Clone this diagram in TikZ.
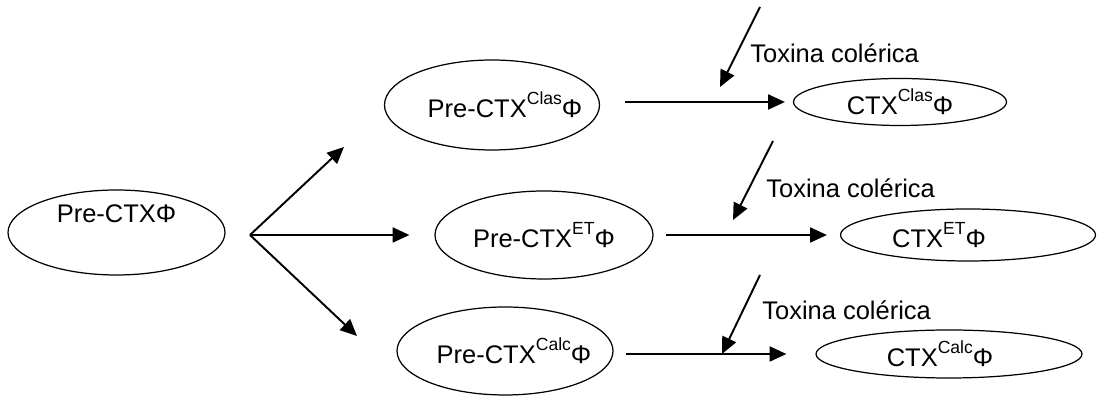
\documentclass[tikz,border=0pt]{standalone}
\usepackage{fontspec}
\setmainfont{Liberation Sans}
\usetikzlibrary{shapes.geometric, arrows.meta}

\newcommand{\tipo}[1]{\raisebox{0.5em}{\fontsize{10}{10}\selectfont #1}}
% texto sin ancho, asi la elipse guarda su tamano
\newcommand{\dentro}[1]{\makebox[0pt]{#1}}

\begin{document}
\begin{tikzpicture}[
		fago/.style={ellipse, draw, line width=0.7pt, inner sep=0pt, font=\fontsize{14.5}{17}\selectfont},
		flecha/.style={-{Triangle[length=9.5pt,width=8.5pt]}, line width=1.1pt},
		toxina/.style={anchor=base west, inner sep=0pt, font=\fontsize{14.5}{17}\selectfont}]
			\useasboundingbox (0,0) rectangle (22,7.92);
			
			\coordinate (cpre) at (2.33,3.27);
			\coordinate (cclas) at (9.84,5.82);
			\coordinate (cet) at (10.88,3.22);
			\coordinate (ccalc) at (10.10,0.90);
			\coordinate (split) at (5.00,3.22);
			
			\node[fago, minimum width=4.34cm, minimum height=1.70cm, text depth=0.75cm] (pre) at (cpre) {\dentro{Pre-CTXΦ}};
			\node[fago, minimum width=4.30cm, minimum height=1.80cm] (preclas) at (cclas) {\dentro{\hspace*{0.52cm}Pre-CTX\tipo{Clas}Φ}};
			\node[fago, minimum width=4.36cm, minimum height=1.76cm] (preet) at (cet) {\dentro{Pre-CTX\tipo{ET}Φ}};
			\node[fago, minimum width=4.32cm, minimum height=1.76cm] (precalc) at (ccalc) {\dentro{\hspace*{0.36cm}Pre-CTX\tipo{Calc}Φ}};
			
			\node[fago, minimum width=4.26cm, minimum height=0.94cm] (ctxclas) at (18.00,5.88) {\dentro{CTX\tipo{Clas}Φ}};
			\node[fago, minimum width=5.10cm, minimum height=1.04cm] (ctxet) at (19.36,3.22) {\dentro{CTX\tipo{ET}Φ\hspace*{1.16cm}}};
			\node[fago, minimum width=5.32cm, minimum height=0.96cm] (ctxcalc) at (18.98,0.84) {\dentro{CTX\tipo{Calc}Φ\hspace*{0.36cm}}};
			
			% tres ramas desde el profago original
			\coordinate (tipclas) at (6.88,4.98);
			\coordinate (tipcalc) at (7.14,1.20);
			\draw[flecha] (split) -- (tipclas);
			\draw[flecha, shorten >=0.5cm] (split) -- (preet);
			\draw[flecha] (split) -- (tipcalc);
			
			% conversion por la toxina
			\draw[flecha, shorten <=0.5cm, shorten >=0.16cm] (preclas.east |- ctxclas.west) -- (ctxclas.west);
			\draw[flecha, shorten <=0.24cm, shorten >=0.26cm] (preet) -- (ctxet);
			\draw[flecha, shorten <=0.24cm, shorten >=0.58cm] (precalc.east |- ctxcalc.west) -- (ctxcalc.west);
			
			\coordinate (tox1a) at (15.20,7.78);
			\coordinate (tox1b) at (14.40,6.18);
			\coordinate (tox2a) at (15.46,5.10);
			\coordinate (tox2b) at (14.66,3.52);
			\coordinate (tox3a) at (15.20,2.42);
			\coordinate (tox3b) at (14.44,0.84);
			\draw[flecha] (tox1a) -- (tox1b);
			\draw[flecha] (tox2a) -- (tox2b);
			\draw[flecha] (tox3a) -- (tox3b);
			
			\node[toxina] (lbl1) at (15.00,6.66) {Toxina colérica};
			\node[toxina] (lbl2) at (15.32,3.96) {Toxina colérica};
			\node[toxina] (lbl3) at (15.24,1.52) {Toxina colérica};
\end{tikzpicture}
\end{document}
